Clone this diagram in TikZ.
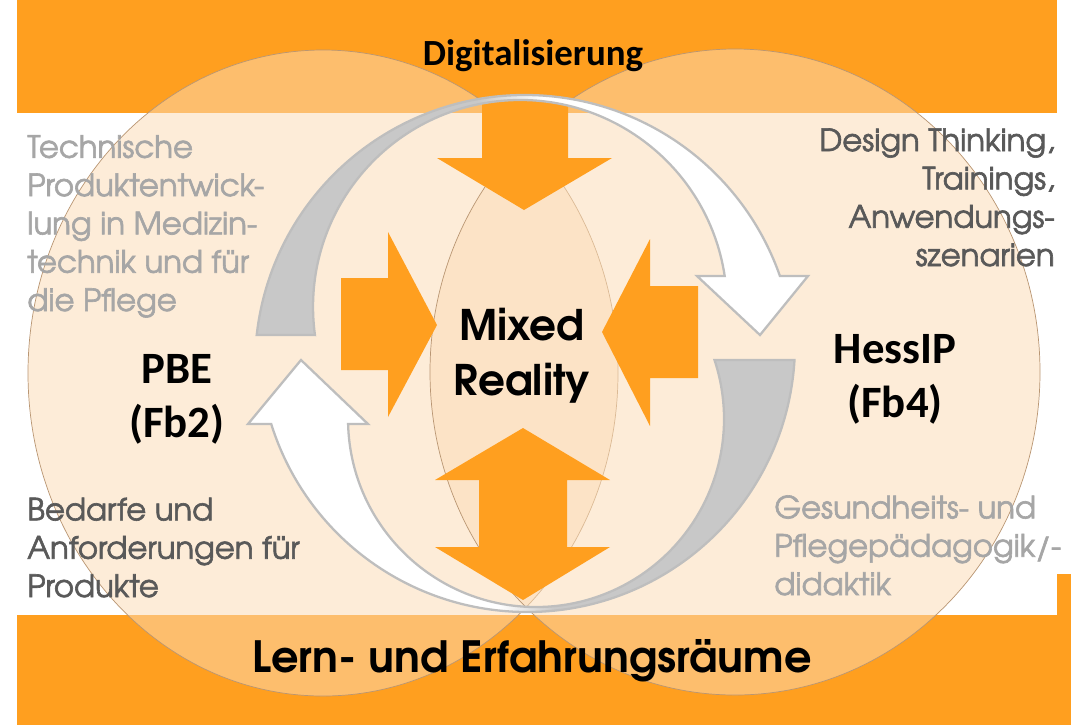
\documentclass[tikz,border=0pt]{standalone}
\usepackage{fontspec}
\newfontfamily\gothic{texgyreadventor}[Extension=.otf, UprightFont=*-regular, BoldFont=*-bold]
\newfontfamily\gothicnote{texgyreadventor-regular.otf}[RawFeature={embolden=2}]
\newfontfamily\calib{Carlito}
\usetikzlibrary{calc}

\definecolor{bandorange}{RGB}{255,159,31}
\definecolor{vennfill}{RGB}{252,220,182}
\definecolor{vennline}{RGB}{185,150,115}
\definecolor{arrowgrey}{RGB}{200,200,200}
\definecolor{arrowline}{RGB}{190,190,190}
\definecolor{palegrey}{RGB}{166,166,166}
\definecolor{darkgrey}{RGB}{89,89,89}
\pgfdeclarehorizontalshading{greytowhite}{100bp}{color(0bp)=(arrowgrey); color(45bp)=(arrowgrey); color(51bp)=(white); color(100bp)=(white)}
\pgfdeclarehorizontalshading{whitetogrey}{100bp}{color(0bp)=(white); color(48bp)=(white); color(53bp)=(arrowgrey); color(100bp)=(arrowgrey)}

\tikzset{
  band/.style={fill=bandorange},
  venn/.style={fill=vennfill, fill opacity=0.52, draw=vennline, line width=0.4pt},
  bigarrow/.style={fill=bandorange},
  cyclearrow/.style={draw=arrowline, line width=1.3pt, line join=miter},
  note/.style={font=\gothicnote\fontsize{17.5}{21.8}\selectfont, align=left, inner sep=0pt},
  title/.style={font=\gothic\bfseries\fontsize{24.5}{30}\selectfont, inner sep=0pt},
  partner/.style={font=\calib\bfseries\fontsize{25.5}{30.6}\selectfont, align=center, inner sep=0pt}
}

\begin{document}
\begin{tikzpicture}[x=0.02cm, y=-0.02cm]
    \useasboundingbox (0,0) rectangle (1071,725);
    \fill[white] (0,0) rectangle (1071,725);

    \coordinate (L) at (323,373);
    \coordinate (R) at (735,372);

    \fill[band] (17,0) rectangle (1057,113);
    \fill[band] (17,615) rectangle (1071,725);
    \fill[band] (1057,574) rectangle (1071,615);

    \draw[venn] (L) ellipse [x radius=295, y radius=323];
    \draw[venn] (R) ellipse [x radius=305, y radius=323];

    \node[note, text=palegrey, anchor=base west] (tech) at (27,311) {Technische\\Produktentwick-\\lung in Medizin-\\technik und für\\die Pflege};
    \node[note, text=darkgrey, anchor=base east, align=right] (design) at (1055,266) {Design Thinking,\\Trainings,\\Anwendungs-\\szenarien};
    \node[note, text=darkgrey, anchor=base west] (needs) at (27,597) {Bedarfe und\\Anforderungen für\\Produkte};
    \node[note, text=palegrey, anchor=base west] (health) at (774,595) {Gesundheits- und\\Pflegepädagogik/-\\didaktik};

    \fill[bigarrow] (482,100) -- (568,100) -- (568,158) -- (612,158) -- (524,210) -- (437,158) -- (482,158) -- cycle;
    \fill[bigarrow] (341,278) -- (388,278) -- (388,232) -- (437,325) -- (388,417) -- (388,370) -- (341,370) -- cycle;
    \fill[bigarrow] (698,286) -- (650,286) -- (650,239) -- (602,332) -- (650,426) -- (650,378) -- (698,378) -- cycle;
    \fill[bigarrow] (523,428) -- (610,480) -- (567,480) -- (567,547) -- (610,547) -- (523,600) -- (435,547) -- (479,547) -- (479,480) -- (435,480) -- cycle;

    \shadedraw[cyclearrow, shading=greytowhite] (314.9,335) -- (256.7,335) arc[start angle=-173.62, end angle=-19.25, radius=270] -- (808,276) -- (760,335) -- (697,276) -- (724.7,276) arc[start angle=-8.61, end angle=-187.78, radius=207] -- cycle;
    \shadedraw[cyclearrow, shading=whitetogrey] (794.5,360) arc[start angle=3.42, end angle=162.63, radius=268] -- (248,424) -- (301,360) -- (368,424) -- (348.1,424) arc[start angle=178.48, end angle=-18.29, radius=188] -- cycle;

    \node[font=\calib\bfseries\fontsize{21}{25}\selectfont, anchor=base, inner sep=0pt] (digital) at (533,65) {Digitalisierung};
    \node[title, anchor=base] (spaces) at (532,672) {Lern- und Erfahrungsräume};
    \node[title, font=\gothic\bfseries\fontsize{24}{31.2}\selectfont, align=center, anchor=base] (mixed) at (522,395) {Mixed\\Reality};
    \node[partner, anchor=base] (pbe) at (177,437) {PBE\\(Fb2)};
    \node[partner, anchor=base] (hessip) at (895,417) {HessIP\\(Fb4)};
\end{tikzpicture}
\end{document}
